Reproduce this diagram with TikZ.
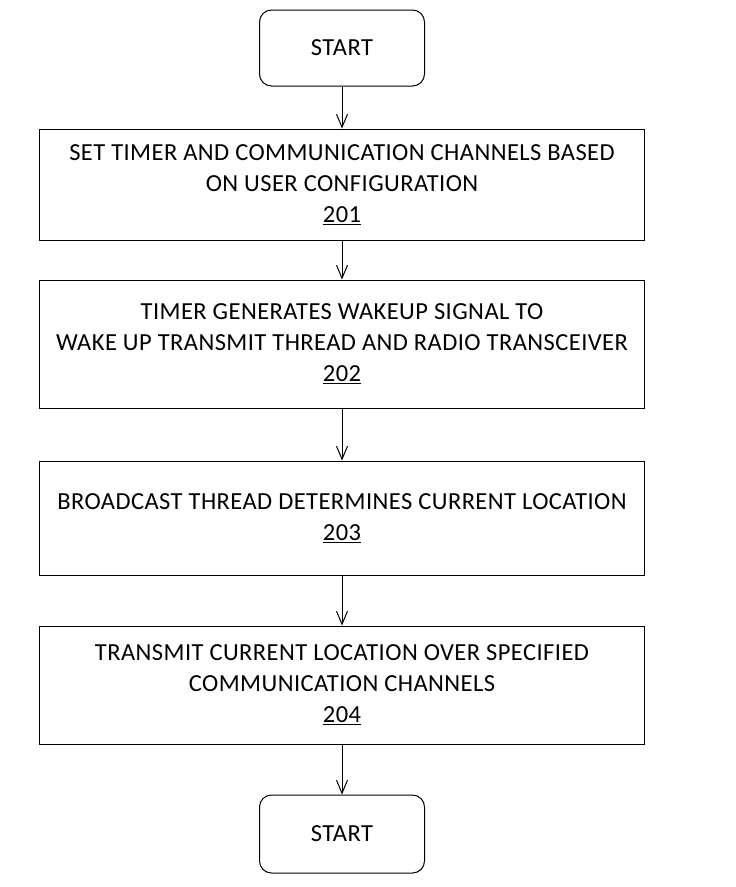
\documentclass[tikz,border=0pt]{standalone}
\usepackage{fontspec}
\setmainfont{Carlito}[LetterSpace=1.8]
\usetikzlibrary{arrows.meta,positioning}

\begin{document}
\begin{tikzpicture}[->,>={Straight Barb[length=13pt,width=11pt]},
		x=1pt,y=1pt,line width=1pt,node distance=50pt,
		font=\fontsize{24.5}{31}\selectfont,
		term node/.style={rectangle,rounded corners=12pt,draw,minimum width=165pt,minimum height=76pt},
		step node/.style={rectangle,draw,align=center,minimum width=605pt}]
		
		\useasboundingbox (0,0) rectangle (736,-887);
		
		\node[term node] (start) at (342,-48) {START};
		\node[step node,minimum height=111pt] (s201) [below=42pt of start] {SET TIMER AND COMMUNICATION CHANNELS BASED\\ON USER CONFIGURATION\\\underline{201}};
		\node[step node,minimum height=128pt] (s202) [below=39pt of s201] {TIMER GENERATES WAKEUP SIGNAL TO\\WAKE UP TRANSMIT THREAD AND RADIO TRANSCEIVER\\\underline{202}};
		\node[step node,minimum height=114pt] (s203) [below=52pt of s202] {BROADCAST THREAD DETERMINES CURRENT LOCATION\\\underline{203}};
		\node[step node,minimum height=118pt] (s204) [below=of s203] {TRANSMIT CURRENT LOCATION OVER SPECIFIED\\COMMUNICATION CHANNELS\\\underline{204}};
		\node[term node,minimum height=78pt] (end) [below=of s204] {START};
		
		\path
		(start) edge (s201)
		(s201) edge (s202)
		(s202) edge (s203)
		(s203) edge (s204)
		(s204) edge (end);
		
\end{tikzpicture}
\end{document}
